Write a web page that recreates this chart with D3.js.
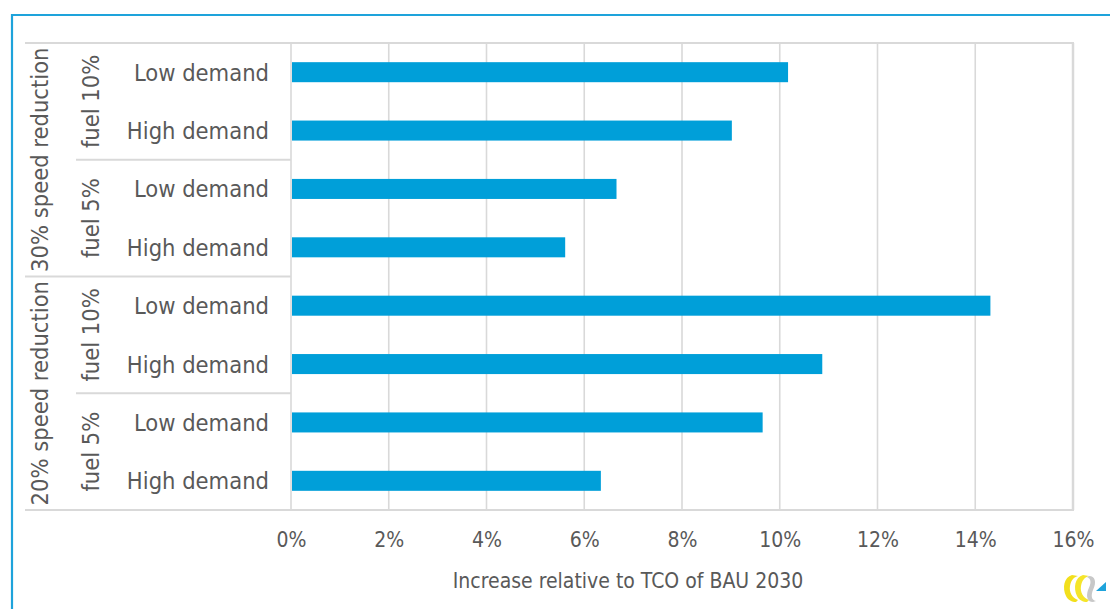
<!DOCTYPE html>
<html>
<head>
<meta charset="utf-8">
<script src="https://cdn.jsdelivr.net/npm/d3@7"></script>
<style>
  html, body { margin: 0; padding: 0; background: #fff; }
  svg text { font-family: "DejaVu Sans Condensed", "DejaVu Sans", sans-serif; font-stretch: condensed; fill: #595959; }
</style>
</head>
<body>
<div id="chart"></div>
<script>
// chart data
const speedGroups = ["30% speed reduction", "20% speed reduction"];
const fuelGroups = ["fuel 10%", "fuel 5%"];
const demandLabels = ["Low demand", "High demand"];
// increase relative to TCO of BAU 2030 (%), top to bottom
const values = [10.17, 9.02, 6.66, 5.61, 14.31, 10.87, 9.65, 6.34];
const tickValues = [0, 2, 4, 6, 8, 10, 12, 14, 16];
const axisTitle = "Increase relative to TCO of BAU 2030";

// flatten the three category levels into rows
const rows = [];
speedGroups.forEach((s, si) => {
  fuelGroups.forEach((f, fi) => {
    demandLabels.forEach((d, di) => {
      rows.push({ speed: s, fuel: f, demand: d, value: values[rows.length] });
    });
  });
});

const W = 1110, H = 609;
const plot = { left: 291, right: 1073, top: 43, bottom: 510 };
const labelLeft = 25, fuelLeft = 76;
const grey = "#d9d9d9";

const svg = d3.select("#chart").append("svg")
    .attr("width", W)
    .attr("height", H);

// outer blue frame
svg.append("path")
    .attr("d", `M12,${H} V15 H${W}`)
    .attr("fill", "none")
    .attr("stroke", "#1ea3db")
    .attr("stroke-width", 2.2);

const x = d3.scaleLinear()
    .domain([0, 16])
    .range([plot.left, plot.right]);

const y = d3.scaleBand()
    .domain(d3.range(rows.length))
    .range([plot.top, plot.bottom])
    .paddingInner(0.657)
    .paddingOuter(0.3285);

// row boundaries
const edge = d3.scaleLinear()
    .domain([0, rows.length])
    .range([plot.top, plot.bottom]);

// vertical gridlines
svg.append("g")
  .selectAll("line")
  .data(tickValues)
  .enter().append("line")
    .attr("x1", d => x(d))
    .attr("x2", d => x(d))
    .attr("y1", plot.top)
    .attr("y2", plot.bottom)
    .attr("stroke", grey)
    .attr("stroke-width", d => d === 16 ? 2.5 : 1.6);

// top and bottom borders incl. label area
[plot.top, plot.bottom].forEach(yy => {
  svg.append("line")
      .attr("x1", labelLeft).attr("x2", plot.right + 1)
      .attr("y1", yy).attr("y2", yy)
      .attr("stroke", grey)
      .attr("stroke-width", 2);
});

// category separators
svg.append("line")
    .attr("x1", labelLeft).attr("x2", plot.left)
    .attr("y1", edge(4)).attr("y2", edge(4))
    .attr("stroke", grey).attr("stroke-width", 2);
[2, 6].forEach(i => {
  svg.append("line")
      .attr("x1", fuelLeft).attr("x2", plot.left)
      .attr("y1", edge(i)).attr("y2", edge(i))
      .attr("stroke", grey).attr("stroke-width", 2);
});

// bars
svg.append("g")
  .selectAll("rect")
  .data(rows)
  .enter().append("rect")
    .attr("x", x(0) + 1)
    .attr("y", (d, i) => y(i))
    .attr("width", d => x(d.value) - x(0) - 1)
    .attr("height", y.bandwidth())
    .attr("fill", "#009fd9");

// demand labels
svg.append("g")
  .selectAll("text")
  .data(rows)
  .enter().append("text")
    .attr("x", 269)
    .attr("y", (d, i) => y(i) + y.bandwidth() / 2)
    .attr("dy", "0.36em")
    .attr("text-anchor", "end")
    .style("font-size", "23.5px")
    .text(d => d.demand);

// fuel labels (rotated)
const fuelRows = d3.range(4).map(i => ({ label: rows[i * 2].fuel, mid: (edge(i * 2) + edge(i * 2 + 2)) / 2 }));
svg.append("g")
  .selectAll("text")
  .data(fuelRows)
  .enter().append("text")
    .attr("transform", d => `translate(91,${d.mid}) rotate(-90)`)
    .attr("dy", "0.36em")
    .attr("text-anchor", "middle")
    .style("font-size", "23.5px")
    .text(d => d.label);

// speed labels (rotated)
const speedRows = speedGroups.map((s, i) => ({ label: s, mid: (edge(i * 4) + edge(i * 4 + 4)) / 2 }));
svg.append("g")
  .selectAll("text")
  .data(speedRows)
  .enter().append("text")
    .attr("transform", d => `translate(40,${d.mid}) rotate(-90)`)
    .attr("dy", "0.36em")
    .attr("text-anchor", "middle")
    .style("font-size", "23.5px")
    .text(d => d.label);

// x axis tick labels
const xAxis = d3.axisBottom(x)
    .tickValues(tickValues)
    .tickFormat(d => d + "%")
    .tickSize(0)
    .tickPadding(22);

const gx = svg.append("g")
    .attr("transform", `translate(0,${plot.bottom})`)
    .call(xAxis);
gx.select(".domain").remove();
gx.selectAll("text")
    .style("font-size", "21px")
    .attr("fill", "#595959");

// axis title
svg.append("text")
    .attr("x", (plot.left + plot.right) / 2 - 54)
    .attr("y", 588)
    .attr("text-anchor", "middle")
    .style("font-size", "21px")
    .text(axisTitle);

// small logo in the corner
const logo = svg.append("g").attr("transform", "translate(1062,574)");
logo.append("path")
    .attr("d", "M10,1 C2,3 0,14 4,22 C6,26 10,28 14,28 L16,26 C10,24 7,18 8,12 C9,6 12,3 16,2 Z")
    .attr("fill", "#f2df1c");
logo.append("path")
    .attr("d", "M21,1 C13,3 11,14 15,22 C17,26 21,28 25,28 L27,26 C21,24 18,18 19,12 C20,6 23,3 27,2 Z")
    .attr("fill", "#f5e52a");
logo.append("path")
    .attr("d", "M27,2 C33,2 35,8 31,16 C29,21 29,26 34,27 L31,28 C25,28 24,22 26,16 C29,10 30,5 25,3 Z")
    .attr("fill", "#c8c8c8");
logo.append("path")
    .attr("d", "M34,17 L44,8 L44,17 Z")
    .attr("fill", "#1ea3db");
</script>
</body>
</html>
